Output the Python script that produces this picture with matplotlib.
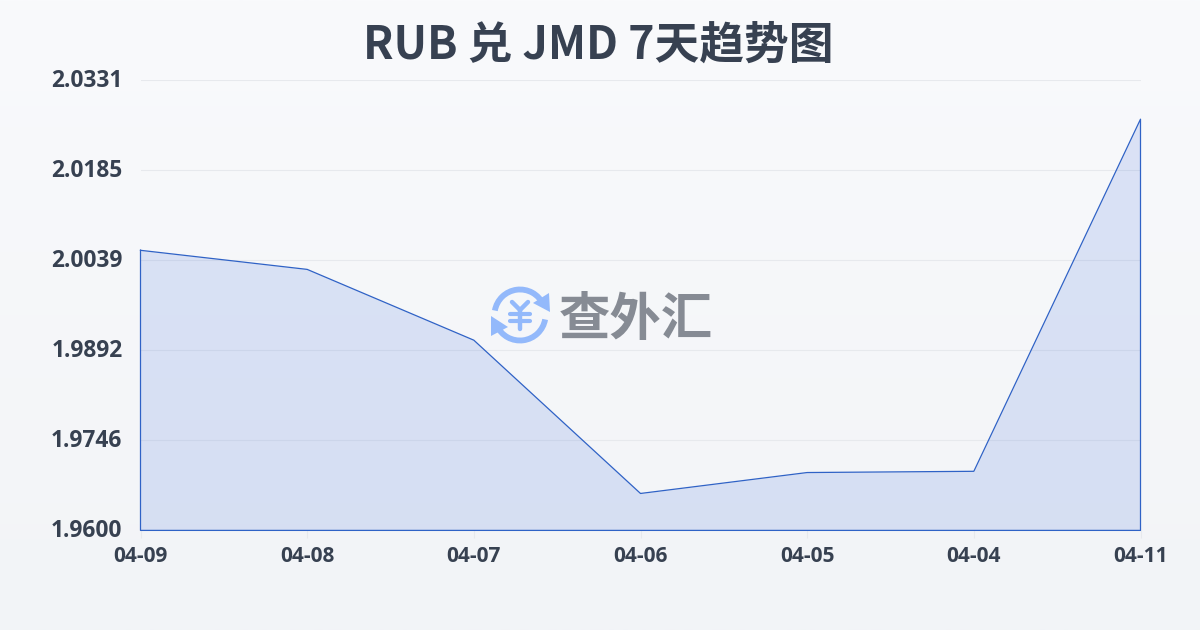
import numpy as np
import matplotlib
matplotlib.use('Agg')
import matplotlib.pyplot as plt
from matplotlib.patches import Arc, Polygon
from matplotlib.transforms import ScaledTranslation

plt.rcParams['font.family'] = ['Noto Sans CJK SC', 'DejaVu Sans']

title = 'RUB 兑 JMD 7天趋势图'
dates = ['04-09', '04-08', '04-07', '04-06', '04-05', '04-04', '04-11']
rates = [2.0055, 2.0024, 1.9909, 1.9660, 1.9694, 1.9696, 2.0268]
y_ticks = [1.9600, 1.97462, 1.98924, 2.00386, 2.01848, 2.0331]
y_labels = ['1.9600', '1.9746', '1.9892', '2.0039', '2.0185', '2.0331']

W, H = 1200, 630
TEXT = '#374151'
LINE = '#2f62c6'
LOGO_BLUE = '#93b9fb'

fig = plt.figure(figsize=(W / 100, H / 100), dpi=100)

# background gradient, full figure
bg = fig.add_axes([0, 0, 1, 1], zorder=0)
grad = np.linspace(0, 1, 256).reshape(-1, 1)
cmap = matplotlib.colors.LinearSegmentedColormap.from_list('bg', ['#f9fafc', '#f2f4f7'])
bg.imshow(grad, aspect='auto', cmap=cmap, extent=[0, W, H, 0])
bg.set_xlim(0, W)
bg.set_ylim(H, 0)
bg.axis('off')

# plot area
ax = fig.add_axes([140.5 / W, 1 - 530.4 / H, 1000 / W, 450 / H], zorder=1)
ax.patch.set_alpha(0)
x = np.arange(len(dates))
ax.set_xlim(0, len(dates) - 1)
ax.set_ylim(y_ticks[0], y_ticks[-1])
ax.set_yticks(y_ticks, y_labels)
ax.set_xticks(x, dates)
ax.grid(axis='y', color='#e7e9ed', lw=0.8, zorder=1)
ax.set_axisbelow(True)
for s in ax.spines.values():
    s.set_visible(False)
ax.tick_params(axis='y', length=0, pad=13, labelsize=16.4, labelcolor=TEXT)
ax.tick_params(axis='x', length=6, width=0.8, color='#e7e9ed', pad=5, labelsize=15, labelcolor=TEXT)
up = ScaledTranslation(0, 2 / 100, fig.dpi_scale_trans)
for lab in ax.get_xticklabels() + ax.get_yticklabels():
    lab.set_fontfamily(['Open Sans', 'DejaVu Sans'])
    lab.set_fontweight('bold')
for lab in ax.get_yticklabels():
    lab.set_transform(lab.get_transform() + up)

ax.fill_between(x, rates, y_ticks[0], color='#3564d9', alpha=0.15, lw=0, zorder=2)
# outline goes all the way round the area
ax.plot(np.r_[x, x[-1], x[0], x[0]], np.r_[rates, y_ticks[0], y_ticks[0], rates[0]],
        color=LINE, lw=0.9, zorder=3, clip_on=False)

# title and logo in pixel coords
ov = fig.add_axes([0, 0, 1, 1], zorder=2)
ov.set_xlim(0, W)
ov.set_ylim(H, 0)
ov.axis('off')
ov.text(598.5, 46, title, ha='center', va='center', fontsize=32.2, fontweight='bold', color=TEXT)
ov.text(636, 319, '查外汇', ha='center', va='center', fontsize=37, fontweight='bold', color='#868b94')

cx, cy = 520, 315
ov.add_patch(Arc((cx, cy), 51, 51, theta1=190, theta2=335, color=LOGO_BLUE, lw=4.2))
ov.add_patch(Arc((cx, cy), 51, 51, theta1=10, theta2=155, color=LOGO_BLUE, lw=4.2))
ov.add_patch(Polygon([[549, 293], [550, 312], [533, 303]], closed=True, color=LOGO_BLUE, lw=0))
ov.add_patch(Polygon([[491, 316], [491, 336], [508, 327]], closed=True, color=LOGO_BLUE, lw=0))
ov.plot([512, 520, 528], [302, 310, 302], color=LOGO_BLUE, lw=3.2, solid_capstyle='round')
ov.plot([520, 520], [310, 329], color=LOGO_BLUE, lw=3.2, solid_capstyle='round')
ov.plot([510, 530], [313.5, 313.5], color=LOGO_BLUE, lw=3, solid_capstyle='round')
ov.plot([510, 530], [320.5, 320.5], color=LOGO_BLUE, lw=3, solid_capstyle='round')

fig.savefig('out.png', dpi=100)
